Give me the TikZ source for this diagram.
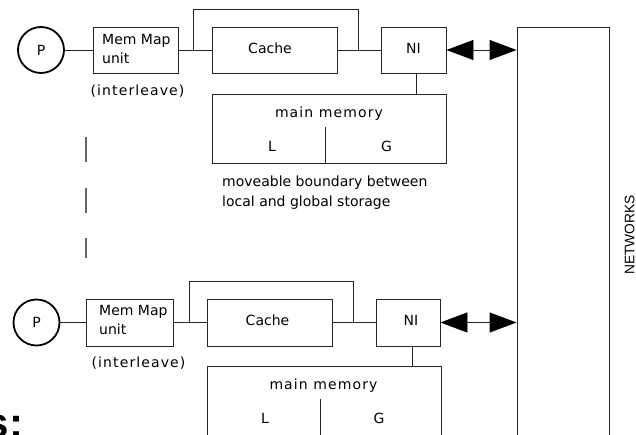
\documentclass[tikz,border=0pt]{standalone}
\usepackage{fontspec}
\setmainfont{DejaVu Sans}
\newfontfamily\spacedfont[LetterSpace=8]{DejaVu Sans}
\newfontfamily\netfont{Liberation Sans}
\usetikzlibrary{arrows.meta}

\begin{document}
\begin{tikzpicture}[x=1pt,y=-1pt,
  box/.style={draw=black!85, line width=0.9pt, inner sep=0pt},
  wire/.style={draw=black!85, line width=0.9pt},
  proc/.style={circle, draw=black, line width=1.8pt, minimum size=46pt,
    inner sep=0pt, font=\fontsize{14}{16}\selectfont},
  lbl/.style={inner sep=0pt, font=\fontsize{14}{16}\selectfont},
  slbl/.style={inner sep=0pt, font=\spacedfont\fontsize{14}{16}\selectfont},
  gapline/.style={draw=black!60, line width=1.4pt},
  biarrow/.style={wire, {Triangle[length=27pt,width=20pt,fill=black,color=black]}-{Triangle[length=27pt,width=20pt,fill=black,color=black]}},
]
\useasboundingbox (0,0) rectangle (636,434);
\clip (0,0) rectangle (636,434);
\fill[white] (0,0) rectangle (636,434);

% ---------- network column ----------
\node[box, minimum width=92pt, minimum height=413pt] (net) at (563,233.5) {};
\node[inner sep=0pt, rotate=90, font=\netfont\fontsize{13.8}{16}\selectfont]
  (netlbl) at (629.5,235) {NETWORKS};

% ---------- upper node ----------
\node[proc] (p1) at (41,50) {P};
\node[box, minimum width=85pt, minimum height=46pt] (mm1) at (135.5,50) {};
\node[lbl, anchor=base west] (mm1a) at (102,44) {Mem Map};
\node[lbl, anchor=base west] (mm1b) at (102,63) {unit};
\node[slbl, anchor=base] (il1) at (137.5,95) {(interleave)};
\node[box, minimum width=125pt, minimum height=46pt] (c1) at (274.5,50) {};
\node[lbl] (c1t) at (270,48) {Cache};
\node[box, minimum width=65pt, minimum height=46pt] (ni1) at (413.5,50) {};
\node[lbl] (ni1t) at (413.5,48) {NI};
\node[box, minimum width=234pt, minimum height=69pt] (mem1) at (329,128.5) {};
\node[slbl, anchor=base] (mem1t) at (329,117) {main memory};
\node[lbl, anchor=base] (l1) at (272,151) {L};
\node[lbl, anchor=base] (g1) at (386.5,151) {G};
\node[lbl, anchor=base west] (mv1) at (222,186) {moveable boundary between};
\node[lbl, anchor=base west] (mv2) at (222,206) {local and global storage};

\coordinate (j1) at (193,50);
\coordinate (t1) at (193,9);
\coordinate (t2) at (358,9);
\coordinate (j2) at (358,50);
\coordinate (k1) at (416,0);
\coordinate (d1) at (325,127);

\draw[wire] (p1.east) -- (mm1.west);
\draw[wire] (mm1.east) -- (c1.west);
\draw[wire] (c1.east) -- (ni1.west);
\draw[wire] (j1) -- (t1) -- (t2) -- (j2);
\draw[wire] (ni1.south -| k1) -- (mem1.north -| k1);
\draw[wire] (d1) -- (d1 |- mem1.south);
\draw[biarrow] (ni1.east) -- (ni1.east -| net.west);

% ---------- gap marks between the nodes ----------
\coordinate (g1a) at (86,137);  \coordinate (g1b) at (86,162);
\coordinate (g2a) at (86,188);  \coordinate (g2b) at (86,213);
\coordinate (g3a) at (86,238);  \coordinate (g3b) at (86,258);
\draw[gapline] (g1a) -- (g1b);
\draw[gapline] (g2a) -- (g2b);
\draw[gapline] (g3a) -- (g3b);

% ---------- lower node ----------
\node[proc] (p2) at (36.5,322.5) {P};
\node[box, minimum width=87pt, minimum height=47pt] (mm2) at (129.5,322.5) {};
\node[lbl, anchor=base west] (mm2a) at (99,315) {Mem Map};
\node[lbl, anchor=base west] (mm2b) at (99,334) {unit};
\node[slbl, anchor=base] (il2) at (138.5,367) {(interleave)};
\node[box, minimum width=125pt, minimum height=47pt] (c2) at (269.5,322.5) {};
\node[lbl] (c2t) at (267.5,320) {Cache};
\node[box, minimum width=64pt, minimum height=47pt] (ni2) at (408,322.5) {};
\node[lbl] (ni2t) at (411,320) {NI};
\node[box, minimum width=234pt, minimum height=84pt] (mem2) at (324,408) {};
\node[slbl, anchor=base] (mem2t) at (323.5,389) {main memory};
\node[lbl, anchor=base] (l2) at (265,423) {L};
\node[lbl, anchor=base] (g2) at (379,423) {G};

\coordinate (j3) at (189,322.5);
\coordinate (t3) at (189,281);
\coordinate (t4) at (353,281);
\coordinate (j4) at (353,322.5);
\coordinate (k2) at (412,0);
\coordinate (d2) at (320,399);

\draw[wire] (p2.east) -- (mm2.west);
\draw[wire] (mm2.east) -- (c2.west);
\draw[wire] (c2.east) -- (ni2.west);
\draw[wire] (j3) -- (t3) -- (t4) -- (j4);
\draw[wire] (ni2.south -| k2) -- (mem2.north -| k2);
\draw[wire] (d2) -- (d2 |- mem2.south);
\draw[biarrow] (ni2.east) -- (ni2.east -| net.west);

% ---------- heading fragment ----------
\node[inner sep=0pt, anchor=base west,
  font=\netfont\bfseries\fontsize{42}{44}\selectfont] (hd) at (-14.4,437) {s:};
\end{tikzpicture}
\end{document}
